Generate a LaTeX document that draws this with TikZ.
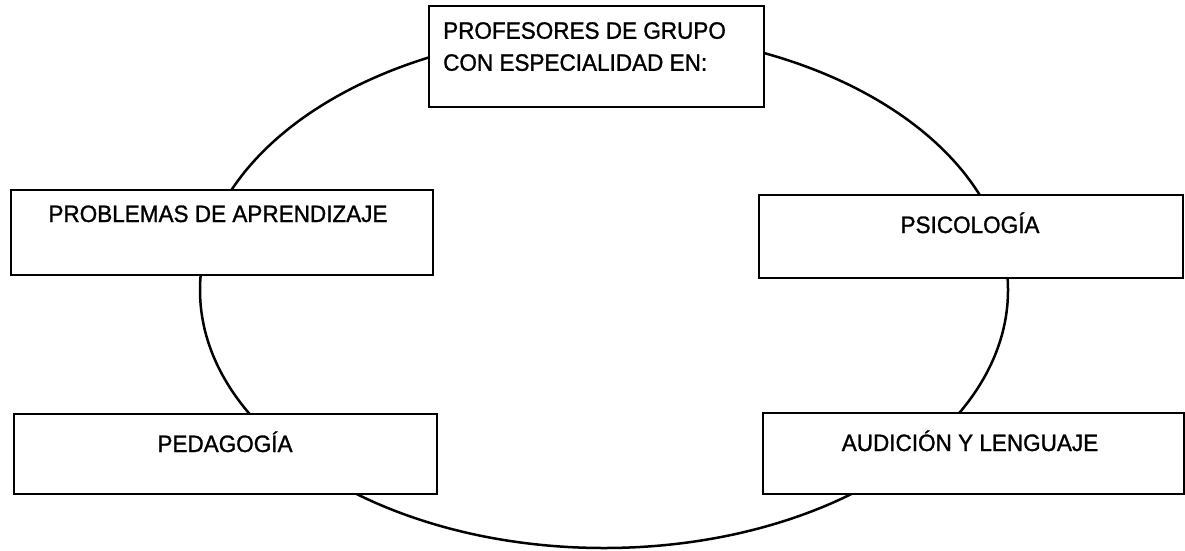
\documentclass[tikz,border=0pt]{standalone}
\usepackage{fontspec}
\setmainfont{Liberation Sans}[FakeStretch=0.95,FakeBold=1.2]
\begin{document}
\begin{tikzpicture}[x=1pt,y=-1pt,
  box/.style={draw=black, line width=1.7pt, fill=white, rectangle, anchor=north west, inner sep=0pt},
  lbl/.style={inner sep=0pt, font=\fontsize{23.7}{32}\selectfont, text=black},
  ring/.style={draw=black, line width=2.5pt}]
\useasboundingbox (0,0) rectangle (1185,550);
\fill[white] (0,0) rectangle (1185,550);
% ellipse
\draw[ring] (604,290) ellipse [x radius=404, y radius=258];
% boxes
\node[box, minimum width=335pt, minimum height=101pt] (top) at (428,5) {};
\node[box, minimum width=422pt, minimum height=85pt] (prob) at (10,189) {};
\node[box, minimum width=424pt, minimum height=83pt] (psic) at (758,194) {};
\node[box, minimum width=423pt, minimum height=80pt] (peda) at (13,413) {};
\node[box, minimum width=421pt, minimum height=81pt] (audi) at (762,412) {};
% labels
\node[lbl, anchor=north west, align=left] (ttop) at (443,22) {PROFESORES DE GRUPO\\CON ESPECIALIDAD EN:};
\node[lbl, anchor=base] (tprob) at (218,222) {PROBLEMAS DE APRENDIZAJE};
\node[lbl, anchor=base] (tpsic) at (970,233) {PSICOLOGÍA};
\node[lbl, anchor=base] (tpeda) at (225,452) {PEDAGOGÍA};
\node[lbl, anchor=base] (taudi) at (970,451) {AUDICIÓN Y LENGUAJE};
\end{tikzpicture}
\end{document}
